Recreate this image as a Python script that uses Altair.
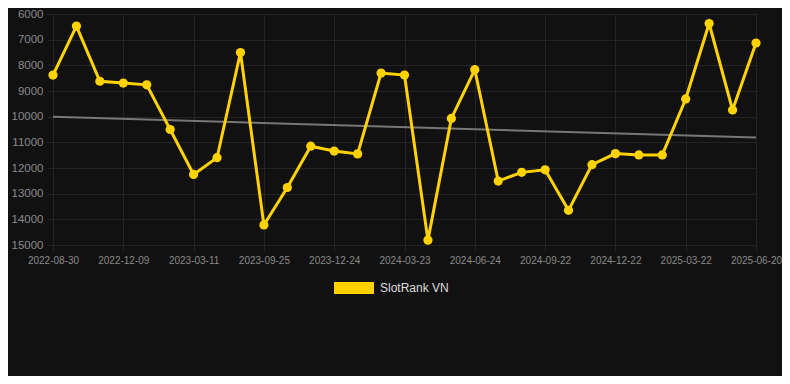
import altair as alt
import pandas as pd

dates = [
    "2022-08-30", "2022-10-03", "2022-11-06", "2022-12-09", "2023-01-08", "2023-02-09",
    "2023-03-11", "2023-05-20", "2023-07-28", "2023-09-25", "2023-10-25", "2023-11-24",
    "2023-12-24", "2024-01-23", "2024-02-22", "2024-03-23", "2024-04-24", "2024-05-25",
    "2024-06-24", "2024-07-24", "2024-08-23", "2024-09-22", "2024-10-22", "2024-11-21",
    "2024-12-22", "2025-01-21", "2025-02-20", "2025-03-22", "2025-04-21", "2025-05-21",
    "2025-06-20",
]
ranks = [
    8380, 6470, 8620, 8690, 8760, 10500, 12250, 11600, 7500, 14220,
    12760, 11150, 11340, 11450, 8300, 8380, 14810, 10070, 8170, 12510,
    12170, 12070, 13650, 11870, 11440, 11490, 11490, 9310, 6370, 9740,
    7130,
]
series_name = "SlotRank VN"
tick_dates = dates[::3]
y_ticks = list(range(6000, 15001, 1000))

df = pd.DataFrame({"i": list(range(len(dates))), "date": dates, "rank": ranks, "series": series_name})

GOLD = "#FFD200"
GRID = "#242424"
LABEL = "#8a8a8a"
FONT = "Liberation Sans"

x_enc = alt.X(
    "date:O",
    sort=dates,
    scale=alt.Scale(type="point", padding=0, domain=dates),
    axis=alt.Axis(
        values=tick_dates, title=None, labelAngle=0, labelColor=LABEL, labelFontSize=10,
        labelFont=FONT, grid=True, gridColor=GRID, domain=False, tickColor=GRID,
        tickSize=6, labelPadding=4,
    ),
)
y_enc = alt.Y(
    "rank:Q",
    scale=alt.Scale(domain=[6000, 15000], reverse=True, nice=False, zero=False),
    axis=alt.Axis(
        values=y_ticks, format="d", title=None, labelColor=LABEL, labelFontSize=11.5,
        labelFont=FONT, grid=True, gridColor=GRID, domain=False, tickColor=GRID,
        tickSize=6, labelPadding=4,
    ),
)

base = alt.Chart(df)

trend = (
    base.transform_regression("i", "rank")
    .transform_lookup(lookup="i", from_=alt.LookupData(df, "i", ["date"]))
    .mark_line(color="#777777", strokeWidth=2)
    .encode(x=x_enc, y=y_enc)
)

color = alt.Color(
    "series:N",
    scale=alt.Scale(domain=[series_name], range=[GOLD]),
    legend=alt.Legend(
        title=None, orient="none", legendX=281, legendY=254,
        symbolType="M-1,-0.3H1V0.3H-1Z", symbolSize=1600, symbolStrokeWidth=0,
        symbolOpacity=1, labelColor="#dddddd", labelFontSize=12, labelFont=FONT,
        labelOffset=6,
    ),
)

line = base.mark_line(strokeWidth=3).encode(x=x_enc, y=y_enc, color=color)
pts = base.mark_circle(size=85, opacity=1).encode(
    x=x_enc, y=y_enc,
    color=alt.Color("series:N", scale=alt.Scale(domain=[series_name], range=[GOLD]), legend=None),
)

chart = (
    alt.layer(trend, line, pts)
    .properties(
        width=703, height=231, background="#111111",
        autosize=alt.AutoSizeParams(type="none"),
        padding={"left": 45, "top": 6, "right": 26, "bottom": 131},
    )
    .configure_view(stroke=None)
)

chart.save("out.html", embed_options={"renderer": "svg", "actions": False})
